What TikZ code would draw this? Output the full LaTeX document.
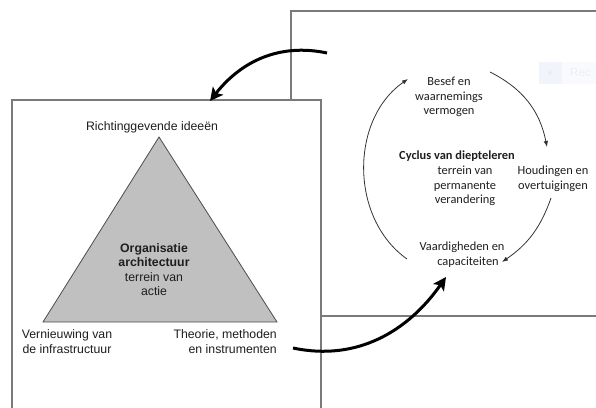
\documentclass[tikz,border=0pt]{standalone}
\usepackage{fontspec}
\setmainfont{Liberation Sans}
\newfontfamily\calibri{Carlito}
\usetikzlibrary{arrows.meta}
\definecolor{boxline}{HTML}{7A7A7A}
\definecolor{trifill}{HTML}{C0C0C0}
\definecolor{txt}{HTML}{1E1E1E}
\definecolor{ghostbg}{HTML}{F8FAFD}
\definecolor{ghostsq}{HTML}{F1F5FB}
\definecolor{ghostdot}{HTML}{F7EAE0}
\definecolor{ghosttxt}{HTML}{EDEFF3}
\tikzset{
  frame/.style={draw=boxline, line width=1.1pt},
  lbl/.style={font=\fontsize{12.3}{14.6}\selectfont, text=txt, inner sep=0pt, align=center},
  clbl/.style={font=\calibri\fontsize{12.4}{14.6}\selectfont, text=txt, inner sep=0pt, align=center},
  bigarrow/.style={line width=3pt, -{Stealth[length=13pt,width=13pt,inset=3pt]}},
  cyclearrow/.style={draw=black!80, line width=0.8pt, -{Latex[length=6pt,width=4.5pt]}},
}
\begin{document}
\begin{tikzpicture}[x=1pt,y=1pt]
\useasboundingbox (0,0) rectangle (596,-407);
\clip (0,0) rectangle (596,-407);
% faint ghost element top right
\fill[ghostbg] (539,-62) rectangle (600,-84);
\fill[ghostsq] (539,-62) rectangle (562,-84);
\fill[ghostdot] (550,-73) circle (2);
\node[font=\fontsize{11.5}{14}\selectfont, text=ghosttxt, anchor=west, inner sep=0pt] (ghost) at (570,-73) {Rec};
% right box
\draw[frame] (291,-11) rectangle (610,-316);
% left box on top
\draw[frame, fill=white] (12,-100) rectangle (321,-420);
% triangle
\coordinate (apex) at (159,-137);
\coordinate (bl) at (43,-322);
\coordinate (br) at (277,-322);
\draw[draw=black!70, line width=0.8pt, fill=trifill] (apex) -- (bl) -- (br) -- cycle;
% left texts
\node[lbl] (rich) at (152,-127) {Richtinggevende ideeën};
\node[lbl] (org) at (154,-269.5) {\textbf{Organisatie}\\\textbf{architectuur}\\terrein van\\actie};
\node[lbl] (vern) at (67,-341.5) {Vernieuwing van\\de infrastructuur};
\node[lbl, align=right, anchor=east] (theo) at (277,-341.5) {Theorie, methoden\\en instrumenten};
% right texts
\node[clbl] (besef) at (449,-97) {Besef en\\waarnemings\\vermogen};
\node[clbl] (cyc) at (457,-156) {\textbf{Cyclus van diepteleren}};
\node[clbl] (terr) at (465,-186) {terrein van\\permanente\\verandering};
\node[clbl] (houd) at (553,-179) {Houdingen en\\overtuigingen};
\node[clbl] (vaard) at (462,-254.5) {Vaardigheden en\\\hspace*{12pt}capaciteiten};
% cycle arrows
\coordinate (c1s) at (490,-72);
\coordinate (c1e) at (547,-147);
\coordinate (c2s) at (551,-198);
\coordinate (c2e) at (502,-262);
\coordinate (c3s) at (407,-259);
\coordinate (c3e) at (408,-79);
\draw[cyclearrow] (c1s) to[bend left=26] (c1e);
\draw[cyclearrow] (c2s) to[bend left=18] (c2e);
\draw[cyclearrow] (c3s) to[bend left=55] (c3e);
% big arrows
\coordinate (t1s) at (327,-53);
\coordinate (t1e) at (210,-101);
\coordinate (t2s) at (293,-348);
\coordinate (t2e) at (446,-277);
\draw[bigarrow] (t1s) to[out=168, in=52] (t1e);
\draw[bigarrow] (t2s) to[out=-12, in=235] (t2e);
\end{tikzpicture}
\end{document}
